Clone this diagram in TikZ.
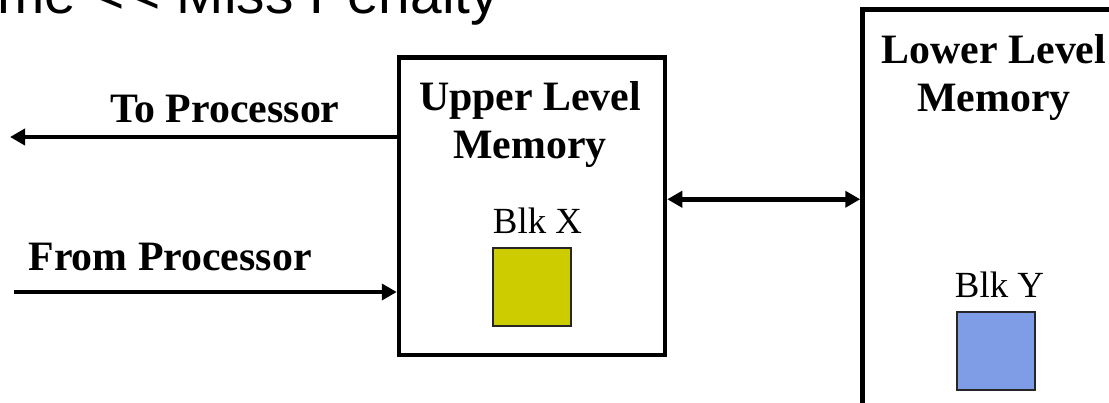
\documentclass[tikz,border=0pt]{standalone}
\usepackage{fontspec}
\setmainfont{Liberation Serif}
\newfontfamily\slidefont{Liberation Sans}
\usetikzlibrary{arrows.meta}

\definecolor{blkyellow}{RGB}{204,204,0}
\definecolor{blkblue}{RGB}{127,157,230}

\begin{document}
\begin{tikzpicture} [
  x=1bp, y=-1bp,
  >={Triangle[length=15bp,width=16bp]},
  every node/.style={inner sep=0},
  mem/.style={draw,rectangle,line width=4.5bp},
  blk/.style={draw=black!85,line width=2bp,minimum size=78bp},
  head/.style={font=\bfseries\fontsize{42}{48}\selectfont,align=center},
  tag/.style={font=\fontsize{37}{40}\selectfont},
  bus/.style={line width=4.5bp,->}
  ]
  \useasboundingbox (0,0) rectangle (1109,402);

  \node (title) [anchor=base west,font=\slidefont\fontsize{57}{60}\selectfont] at (-3,13) {me <\kern3pt< Miss Penalty};

  % the two levels
  \node (up) [mem,minimum width=266bp,minimum height=297.5bp] at (532,206.25) {};
  \node (low) [mem,minimum width=277.5bp,minimum height=420.5bp] at (1001.25,219.75) {};
  \node (uplbl) [head] at (530,124.2) {Upper Level\\Memory};
  \node (lowlbl) [head] at (994,77.7) {Lower Level\\Memory};

  % blocks
  \node (bx) [blk,fill=blkyellow] at (532,287) {};
  \node (by) [blk,fill=blkblue] at (996,351) {};
  \node (bxlbl) [tag,anchor=base] at (537.5,233) {Blk X};
  \node (bylbl) [tag,anchor=base] at (999.5,297) {Blk Y};

  % processor side
  \coordinate (cpuout) at (10,137);
  \coordinate (cpuin) at (14,292);
  \node (tolbl) [head,anchor=base] at (225,122) {To Processor};
  \node (fromlbl) [head,anchor=base] at (170,270) {From Processor};
  \draw [bus] (up.west |- cpuout) -- (cpuout);
  \draw [bus] (cpuin) -- (up.west |- cpuin);

  % between levels
  \coordinate (xfer) at ([yshift=7bp]up.east);
  \draw [bus,<->] (xfer) -- (xfer -| low.west);
\end{tikzpicture}
\end{document}
